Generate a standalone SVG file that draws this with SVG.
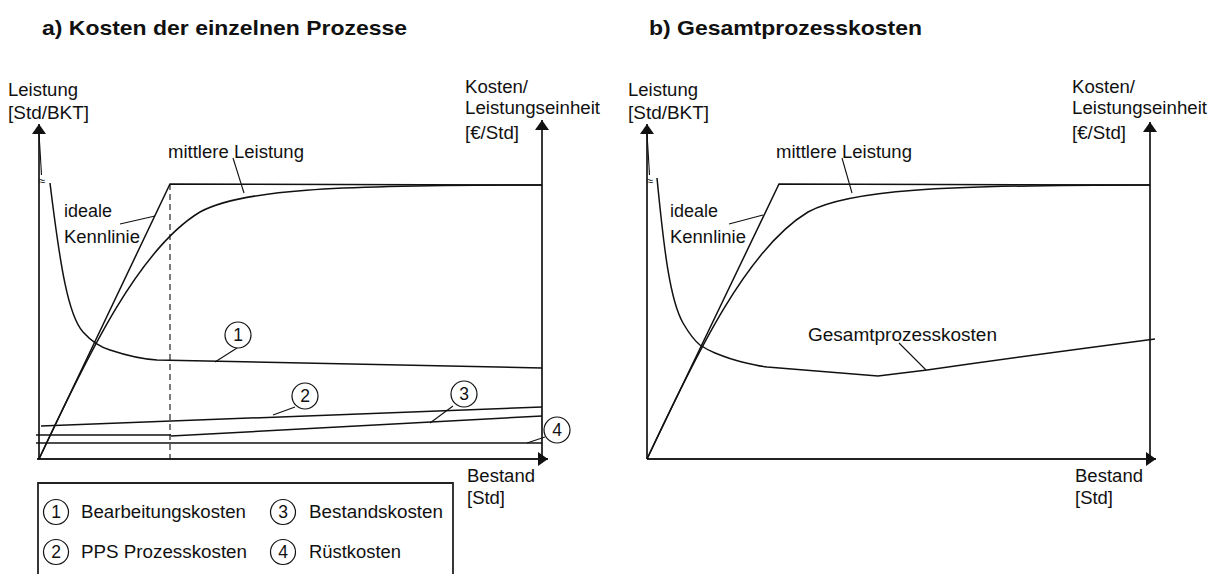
<svg xmlns="http://www.w3.org/2000/svg" width="1210" height="574" viewBox="0 0 1210 574">
<defs>
<style>
text{font-family:"Liberation Sans",Arial,sans-serif;font-size:17.5px;fill:#111}
.title{font-weight:bold;font-size:20.5px}
.ax{stroke:#222;stroke-width:1.8;fill:none}
.cv{stroke:#111;stroke-width:1.5;fill:none}
.ld{stroke:#111;stroke-width:1.1;fill:none}
.num{stroke:#111;stroke-width:1.2;fill:#fff}
.dg{text-anchor:middle;font-size:17.5px}
.apx{font-size:12px;text-anchor:middle}
</style>
<marker id="ahv" viewBox="0 0 10 14" refX="10" refY="7" markerWidth="10" markerHeight="14" markerUnits="userSpaceOnUse" orient="auto">
<path d="M0,0 L10,7 L0,14 Z" fill="#111"/>
</marker>
</defs>

<text class="title" x="42" y="35" textLength="365" lengthAdjust="spacingAndGlyphs">a) Kosten der einzelnen Prozesse</text>
<text class="title" x="649" y="35" textLength="273" lengthAdjust="spacingAndGlyphs">b) Gesamtprozesskosten</text>

<!-- Panel a -->
<g id="panel-a-axes">
<line class="ax" x1="39" y1="459" x2="39" y2="124" marker-end="url(#ahv)"/>
<line class="ax" x1="542" y1="459" x2="542" y2="120" marker-end="url(#ahv)"/>
<line class="ax" x1="37" y1="459" x2="548" y2="459" marker-end="url(#ahv)"/>
<text x="8" y="96" textLength="70" lengthAdjust="spacingAndGlyphs">Leistung</text>
<text x="8" y="119" textLength="81" lengthAdjust="spacingAndGlyphs">[Std/BKT]</text>
<text x="465" y="93" textLength="63" lengthAdjust="spacingAndGlyphs">Kosten/</text>
<text x="465" y="114" textLength="135" lengthAdjust="spacingAndGlyphs">Leistungseinheit</text>
<text x="465" y="139" textLength="54" lengthAdjust="spacingAndGlyphs">[€/Std]</text>
<text x="467" y="482" textLength="68" lengthAdjust="spacingAndGlyphs">Bestand</text>
<text x="467" y="504" textLength="38" lengthAdjust="spacingAndGlyphs">[Std]</text>
</g>

<g id="panel-a-ideal">
<polyline class="cv" points="39,459 170,184 542,185"/>
<line class="ld" x1="170" y1="184" x2="170" y2="459" stroke-dasharray="6,4"/>
<text x="64" y="217" textLength="48" lengthAdjust="spacingAndGlyphs">ideale</text>
<text x="64" y="243" textLength="76" lengthAdjust="spacingAndGlyphs">Kennlinie</text>
<line class="ld" x1="120" y1="224" x2="155" y2="216"/>
</g>

<g id="panel-a-mittlere">
<path class="cv" d="M39,459 C90,350 140,248 200,212 C240,190 330,185 542,185"/>
<text x="168" y="158" textLength="136" lengthAdjust="spacingAndGlyphs">mittlere Leistung</text>
<line class="ld" x1="233" y1="158" x2="244" y2="193"/>
</g>

<g id="panel-a-curve1">
<line class="ld" x1="39" y1="133" x2="41.5" y2="175"/>
<text class="apx" x="42" y="185">≈</text>
<path class="cv" d="M50,183 C60,265 68,315 83,332 C92,342 100,347 110,350 C125,355 140,359 157,360 L542,368"/>
<line class="ld" x1="237" y1="348" x2="215" y2="362"/>
<circle class="num" cx="238" cy="335" r="13"/>
<text class="dg" x="238" y="341">1</text>
</g>

<g id="panel-a-curve2">
<line class="cv" x1="41" y1="426" x2="542" y2="407"/>
<line class="ld" x1="295" y1="407" x2="273" y2="415"/>
<circle class="num" cx="305" cy="396" r="13"/>
<text class="dg" x="305" y="402">2</text>
</g>

<g id="panel-a-curve3">
<polyline class="cv" points="36,435 171,435"/>
<line class="cv" x1="171" y1="436" x2="542" y2="416"/>
<line class="ld" x1="453" y1="406" x2="430" y2="423"/>
<circle class="num" cx="464" cy="394" r="13"/>
<text class="dg" x="464" y="400">3</text>
</g>

<g id="panel-a-curve4">
<line class="cv" x1="36" y1="443" x2="542" y2="443"/>
<line class="ld" x1="545" y1="437" x2="527" y2="443"/>
<circle class="num" cx="557" cy="430" r="13"/>
<text class="dg" x="557" y="436">4</text>
</g>

<g id="legend">
<path class="ax" d="M38,580 L38,483 L453,483 L453,580"/>
<circle class="num" cx="56" cy="512" r="12.5"/>
<text class="dg" x="56" y="518">1</text>
<text x="81" y="518" textLength="165" lengthAdjust="spacingAndGlyphs">Bearbeitungskosten</text>
<circle class="num" cx="56" cy="552" r="12.5"/>
<text class="dg" x="56" y="558">2</text>
<text x="81" y="558" textLength="166" lengthAdjust="spacingAndGlyphs">PPS Prozesskosten</text>
<circle class="num" cx="283" cy="512" r="12.5"/>
<text class="dg" x="283" y="518">3</text>
<text x="309" y="518" textLength="134" lengthAdjust="spacingAndGlyphs">Bestandskosten</text>
<circle class="num" cx="283" cy="552" r="12.5"/>
<text class="dg" x="283" y="558">4</text>
<text x="309" y="558" textLength="92" lengthAdjust="spacingAndGlyphs">Rüstkosten</text>
</g>

<!-- Panel b -->
<g id="panel-b-axes">
<line class="ax" x1="647" y1="459" x2="647" y2="124" marker-end="url(#ahv)"/>
<line class="ax" x1="1150" y1="459" x2="1150" y2="122" marker-end="url(#ahv)"/>
<line class="ax" x1="647" y1="459" x2="1156" y2="459" marker-end="url(#ahv)"/>
<text x="628" y="96" textLength="70" lengthAdjust="spacingAndGlyphs">Leistung</text>
<text x="628" y="119" textLength="81" lengthAdjust="spacingAndGlyphs">[Std/BKT]</text>
<text x="1072" y="93" textLength="63" lengthAdjust="spacingAndGlyphs">Kosten/</text>
<text x="1072" y="114" textLength="135" lengthAdjust="spacingAndGlyphs">Leistungseinheit</text>
<text x="1072" y="139" textLength="54" lengthAdjust="spacingAndGlyphs">[€/Std]</text>
<text x="1075" y="482" textLength="68" lengthAdjust="spacingAndGlyphs">Bestand</text>
<text x="1075" y="504" textLength="38" lengthAdjust="spacingAndGlyphs">[Std]</text>
</g>

<g id="panel-b-ideal">
<polyline class="cv" points="647,459 779,184 1150,185"/>
<text x="670" y="217" textLength="48" lengthAdjust="spacingAndGlyphs">ideale</text>
<text x="670" y="243" textLength="76" lengthAdjust="spacingAndGlyphs">Kennlinie</text>
<line class="ld" x1="729" y1="224" x2="763" y2="215"/>
</g>

<g id="panel-b-mittlere">
<path class="cv" d="M647,459 C698,350 748,248 808,212 C848,190 938,185 1150,185"/>
<text x="776" y="158" textLength="136" lengthAdjust="spacingAndGlyphs">mittlere Leistung</text>
<line class="ld" x1="842" y1="158" x2="852" y2="193"/>
</g>

<g id="panel-b-gesamt">
<line class="ld" x1="647" y1="133" x2="649.5" y2="175"/>
<text class="apx" x="650" y="185">≈</text>
<path class="cv" d="M657,178 C664,250 670,300 683,323 C690,335 695,341 700,345 C706,349 710,351 715,353 C725,357 733,360 742,362 C750,364 758,366 767,367 L878,376 L927,370 Q1040,354 1155,339"/>
<text x="808" y="341" textLength="189" lengthAdjust="spacingAndGlyphs">Gesamtprozesskosten</text>
<line class="ld" x1="899" y1="343" x2="926" y2="370"/>
</g>
</svg>
